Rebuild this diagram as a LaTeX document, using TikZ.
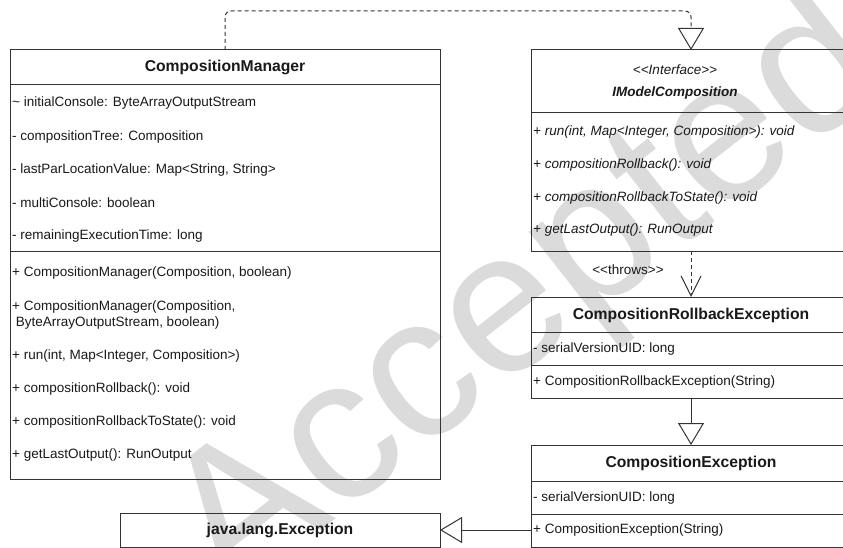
\documentclass[tikz,border=0pt]{standalone}
\usepackage{fontspec}
\setmainfont{Liberation Sans}
\usetikzlibrary{arrows.meta}
\begin{document}
\begin{tikzpicture}[x=1pt,y=-1pt,
  line/.style={draw=black!80, line width=1pt},
  box/.style={line, rectangle, anchor=north west, inner sep=0pt, outer sep=0pt},
  txt/.style={anchor=west, inner sep=0pt, font=\fontsize{13.5}{16}\selectfont, text=black!90},
  itxt/.style={txt, font=\fontsize{13.5}{16}\selectfont\itshape},
  ttl/.style={inner sep=0pt, font=\fontsize{15.7}{18}\selectfont\bfseries, text=black!90},
  hollow/.style={-{Triangle[open, width=26pt, length=22pt, line width=1pt]}},
  dashes/.style={dash pattern=on 4pt off 3pt}
]
\useasboundingbox (0,0) rectangle (843,548);
\fill[white] (0,0) rectangle (843,548);
% watermark
\node[anchor=base, rotate=38, text=black!14, inner sep=0pt,
      font=\fontsize{202}{202}\selectfont] (wm) at (562,342) {Accepted};

% CompositionManager
\node[box, minimum width=430pt, minimum height=429pt] (cm) at (10,50) {};
\draw[line] (10,85) -- (440,85);
\draw[line] (10,251) -- (440,251);
\node[ttl] (cmt) at (225,67.5) {CompositionManager};
\node[txt] (cma1) at (12,103) {\textasciitilde{} initialConsole: ByteArrayOutputStream};
\node[txt] (cma2) at (12,137) {- compositionTree: Composition};
\node[txt] (cma3) at (12,170) {- lastParLocationValue: Map\textless String, String\textgreater};
\node[txt] (cma4) at (12,203) {- multiConsole: boolean};
\node[txt] (cma5) at (12,236) {- remainingExecutionTime: long};
\node[txt] (cmm1) at (12,273) {+ CompositionManager(Composition, boolean)};
\node[txt] (cmm2a) at (12,307) {+ CompositionManager(Composition,};
\node[txt] (cmm2b) at (12,323) {\ ByteArrayOutputStream, boolean)};
\node[txt] (cmm3) at (12,356) {+ run(int, Map\textless Integer, Composition\textgreater)};
\node[txt] (cmm4) at (12,389) {+ compositionRollback(): void};
\node[txt] (cmm5) at (12,422) {+ compositionRollbackToState(): void};
\node[txt] (cmm6) at (12,455) {+ getLastOutput(): RunOutput};

% IModelComposition
\node[box, minimum width=320pt, minimum height=201pt] (im) at (531,50) {};
\draw[line] (531,113) -- (851,113);
\node[inner sep=0pt, font=\fontsize{13.5}{16}\selectfont\itshape, text=black!90] (ims) at (675,70) {\textless{}\textless{}Interface\textgreater{}\textgreater{}};
\node[inner sep=0pt, font=\fontsize{13.5}{16}\selectfont\bfseries\itshape, text=black!90] (imt) at (675,93) {IModelComposition};
\node[itxt] (imm1) at (533,132) {+ run(int, Map\textless Integer, Composition\textgreater): void};
\node[itxt] (imm2) at (533,165) {+ compositionRollback(): void};
\node[itxt] (imm3) at (533,198) {+ compositionRollbackToState(): void};
\node[itxt] (imm4) at (533,230) {+ getLastOutput(): RunOutput};

% CompositionRollbackException
\node[box, minimum width=320pt, minimum height=101pt] (cre) at (531,297) {};
\draw[line] (531,332) -- (851,332);
\draw[line] (531,365) -- (851,365);
\node[ttl] (cret) at (691,315) {CompositionRollbackException};
\node[txt] (crea) at (533,349) {- serialVersionUID: long};
\node[txt] (crem) at (533,382) {+ CompositionRollbackException(String)};

% CompositionException
\node[box, minimum width=320pt, minimum height=102pt] (ce) at (531,445) {};
\draw[line] (531,481) -- (851,481);
\draw[line] (531,514) -- (851,514);
\node[ttl] (cet) at (691,463) {CompositionException};
\node[txt] (cea) at (533,498) {- serialVersionUID: long};
\node[txt] (cem) at (533,530) {+ CompositionException(String)};

% java.lang.Exception
\node[box, minimum width=320pt, minimum height=34pt] (je) at (120,513) {};
\node[ttl] (jet) at (280,530) {java.lang.Exception};

% connectors
\draw[line, dashes, rounded corners=6pt, hollow] (cm.north) -- ++(0,-39) -| (im.north);
\draw[line, dashes, -{Straight Barb[width=20pt, length=20pt, line width=1pt]}] (im.south) -- (cre.north);
\node[inner sep=0pt, font=\fontsize{13.5}{16}\selectfont, text=black!90] (thr) at (628,270) {\textless{}\textless{}throws\textgreater{}\textgreater{}};
\draw[line, hollow] (cre.south) -- (ce.north);
\draw[line, hollow] (ce.west |- je.east) -- (je.east);
\end{tikzpicture}
\end{document}
